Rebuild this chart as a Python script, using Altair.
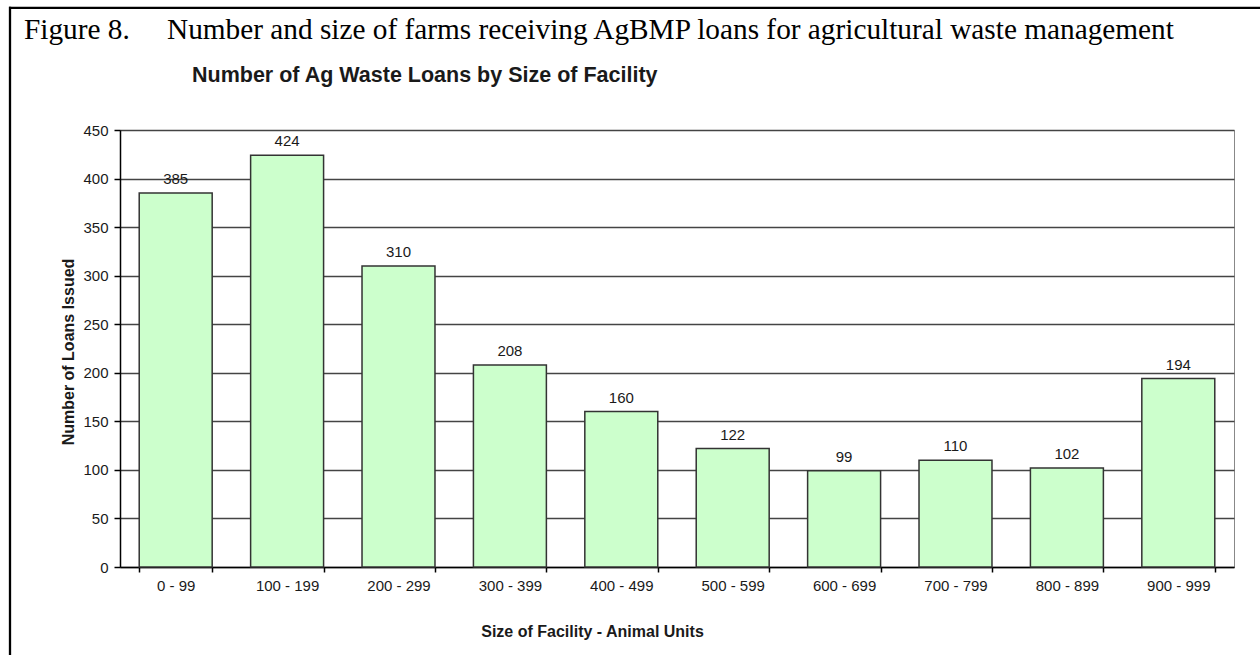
import altair as alt
import pandas as pd

# ---- data ----
categories = ["0 - 99", "100 - 199", "200 - 299", "300 - 399", "400 - 499",
              "500 - 599", "600 - 699", "700 - 799", "800 - 899", "900 - 999"]
loans = [385, 424, 310, 208, 160, 122, 99, 110, 102, 194]
y_ticks = [0, 50, 100, 150, 200, 250, 300, 350, 400, 450]

caption_label = "Figure 8."
caption_text = "Number and size of farms receiving AgBMP loans for agricultural waste management"
chart_title = "Number of Ag Waste Loans by Size of Facility"
x_title = "Size of Facility - Animal Units"
y_title = "Number of Loans Issued"

df = pd.DataFrame({"size": categories, "loans": loans})

W, H = 1114, 437
SANS = "Liberation Sans"
SERIF = "Liberation Serif"
TXT = "#1a1a1a"

x_enc = alt.X(
    "size:N",
    sort=categories,
    scale=alt.Scale(paddingInner=0.345, paddingOuter=0.1725),
    axis=alt.Axis(
        title=x_title, labelAngle=0, tickBand="extent", grid=False,
        tickSize=5, labelPadding=6,
        titleX=472, titleY=69, titleBaseline="alphabetic",
    ),
)
y_enc = alt.Y(
    "loans:Q",
    scale=alt.Scale(domain=[0, 450], nice=False),
    axis=alt.Axis(
        values=y_ticks, title=y_title, grid=True, tickSize=6, labelPadding=6,
        titleX=-46.5, titleY=221.5, titleBaseline="alphabetic",
    ),
)

base = alt.Chart(df)
bars = base.mark_bar(fill="#CCFFCC", stroke="#333333", strokeWidth=1.5).encode(x=x_enc, y=y_enc)
labels = base.mark_text(dy=-9, baseline="alphabetic", fontSize=15, font=SANS, color=TXT).encode(
    x=alt.X("size:N", sort=categories), y=alt.Y("loans:Q"), text="loans:Q"
)

cap1 = alt.Chart(pd.DataFrame({"t": [caption_label]})).mark_text(
    align="left", baseline="alphabetic", font=SERIF, fontSize=29.3, color="black"
).encode(x=alt.value(-96), y=alt.value(-90.7), text="t:N")
cap2 = alt.Chart(pd.DataFrame({"t": [caption_text]})).mark_text(
    align="left", baseline="alphabetic", font=SERIF, fontSize=29.3, color="black"
).encode(x=alt.value(47), y=alt.value(-90.7), text="t:N")
ttl = alt.Chart(pd.DataFrame({"t": [chart_title]})).mark_text(
    align="left", baseline="alphabetic", font=SANS, fontSize=21.5, fontWeight="bold", color=TXT
).encode(x=alt.value(72), y=alt.value(-48), text="t:N")

frame_top = alt.Chart(pd.DataFrame({"a": [0]})).mark_rule(color="black", strokeWidth=2.3).encode(
    x=alt.value(-111), x2=alt.value(1140), y=alt.value(-122.2)
)
frame_left = alt.Chart(pd.DataFrame({"a": [0]})).mark_rule(color="black", strokeWidth=2.3).encode(
    x=alt.value(-110), y=alt.value(-123.3), y2=alt.value(525)
)

chart = alt.layer(bars, labels, cap1, cap2, ttl, frame_top, frame_left).properties(
    width=W, height=H,
    autosize=alt.AutoSizeParams(type="none"),
    padding={"left": 120, "top": 130, "right": 26, "bottom": 88},
    background="white",
).configure_view(
    stroke="#888888", strokeWidth=1
).configure_axis(
    labelFont=SANS, labelFontSize=15, labelColor=TXT,
    titleFont=SANS, titleFontSize=16, titleFontWeight="bold", titleColor=TXT,
    domainColor="black", domainWidth=1.5, tickColor="black", tickWidth=1.5,
    gridColor="#444444", gridWidth=1.4,
)

chart.save("out.html", embed_options={"renderer": "svg", "actions": False})
